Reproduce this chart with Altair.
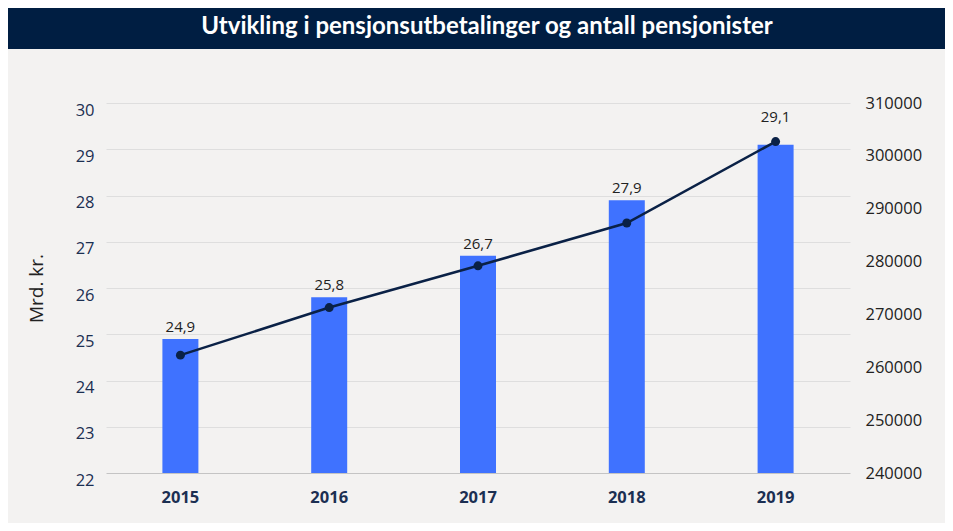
import altair as alt
import pandas as pd

years = ["2015", "2016", "2017", "2018", "2019"]
utbetalinger = [24.9, 25.8, 26.7, 27.9, 29.1]          # Mrd. kr. (bars, left axis)
pensjonister = [262300, 271300, 279200, 287300, 302700]  # antall pensjonister (line, right axis)
title_text = "Utvikling i pensjonsutbetalinger og antall pensjonister"

left_ticks = [22, 23, 24, 25, 26, 27, 28, 29, 30]
right_ticks = [240000, 250000, 260000, 270000, 280000, 290000, 300000, 310000]

df = pd.DataFrame({"year": years, "mrd": utbetalinger, "pens": pensjonister})

NAVY = "#001e42"
BAR = "#3f72ff"
BG = "#f3f2f1"
FONT = "Open Sans"

x_enc = alt.X(
    "year:N",
    sort=years,
    scale=alt.Scale(paddingInner=0, paddingOuter=0),
    axis=alt.Axis(
        title=None, labelAngle=0, ticks=False, domain=False,
        labelFont=FONT, labelFontSize=16.5, labelFontWeight="bold",
        labelColor="#1b2f52", labelPadding=16,
    ),
)

left_scale = alt.Scale(domain=[22, 30], nice=False, zero=False)
left_axis = alt.Axis(
    orient="left", values=left_ticks, format="d",
    title="Mrd. kr.", titleFont=FONT, titleFontSize=19, titleFontWeight="normal",
    titleColor="#222222", titlePadding=29,
    labelFont=FONT, labelFontSize=16.5, labelColor="#1b2f52", labelPadding=12,
    labelOffset=7,
    ticks=False, domain=False, grid=True,
    gridColor={"condition": {"test": "datum.value === 22", "value": "#c4c4c4"}, "value": "#dedede"},
    gridWidth=1,
)
right_scale = alt.Scale(domain=[240000, 310000], nice=False, zero=False)
right_axis = alt.Axis(
    orient="right", values=right_ticks, format="d", title=None,
    labelFont=FONT, labelFontSize=16.5, labelColor="#222222", labelPadding=15,
    ticks=False, domain=False, grid=False,
)

base = alt.Chart(df).encode(x=x_enc)

bars = base.mark_bar(color=BAR, size=36).encode(
    y=alt.Y("mrd:Q", scale=left_scale, axis=left_axis),
    y2=alt.datum(22),
)

lab_base = base.transform_calculate(
    lbl="replace(format(datum.mrd, '.1f'), '.', ',')"
).encode(
    y=alt.Y("mrd:Q", scale=left_scale, axis=left_axis),
    text="lbl:N",
)
labels_low = lab_base.transform_filter(alt.datum.year != "2019").mark_text(
    font=FONT, fontSize=15, color="#222222", baseline="bottom", dy=-4
)
labels_high = lab_base.transform_filter(alt.datum.year == "2019").mark_text(
    font=FONT, fontSize=15, color="#222222", baseline="bottom", dy=-20
)

line = base.mark_line(color="#0a2146", strokeWidth=2.5).encode(
    y=alt.Y("pens:Q", scale=right_scale, axis=right_axis)
)
points = base.mark_point(filled=True, color="#0a2146", size=80, opacity=1).encode(
    y=alt.Y("pens:Q", scale=right_scale, axis=right_axis)
)

left_part = alt.layer(bars, labels_low, labels_high)
right_part = alt.layer(line, points)

band = alt.Chart(alt.Data(values=[{"t": title_text}])).mark_rect(color=NAVY).encode(
    x=alt.value(-98), x2=alt.value(839), y=alt.value(-96), y2=alt.value(-54)
)
title = alt.Chart(alt.Data(values=[{"t": title_text}])).mark_text(
    font="Lato", fontSize=24, fontWeight="bold", color="white", align="center", baseline="middle"
).encode(x=alt.value(381), y=alt.value(-76), text="t:N")

chart = (
    alt.layer(left_part, right_part, band, title)
    .resolve_scale(y="independent")
    .properties(
        width=744, height=370,
        autosize=alt.AutoSizeParams(type="none"),
        padding={"left": 98, "top": 95, "right": 95, "bottom": 50},
        background=BG,
    )
    .configure_view(stroke=None)
)

chart.save("out.html", embed_options={"renderer": "svg", "actions": False})
